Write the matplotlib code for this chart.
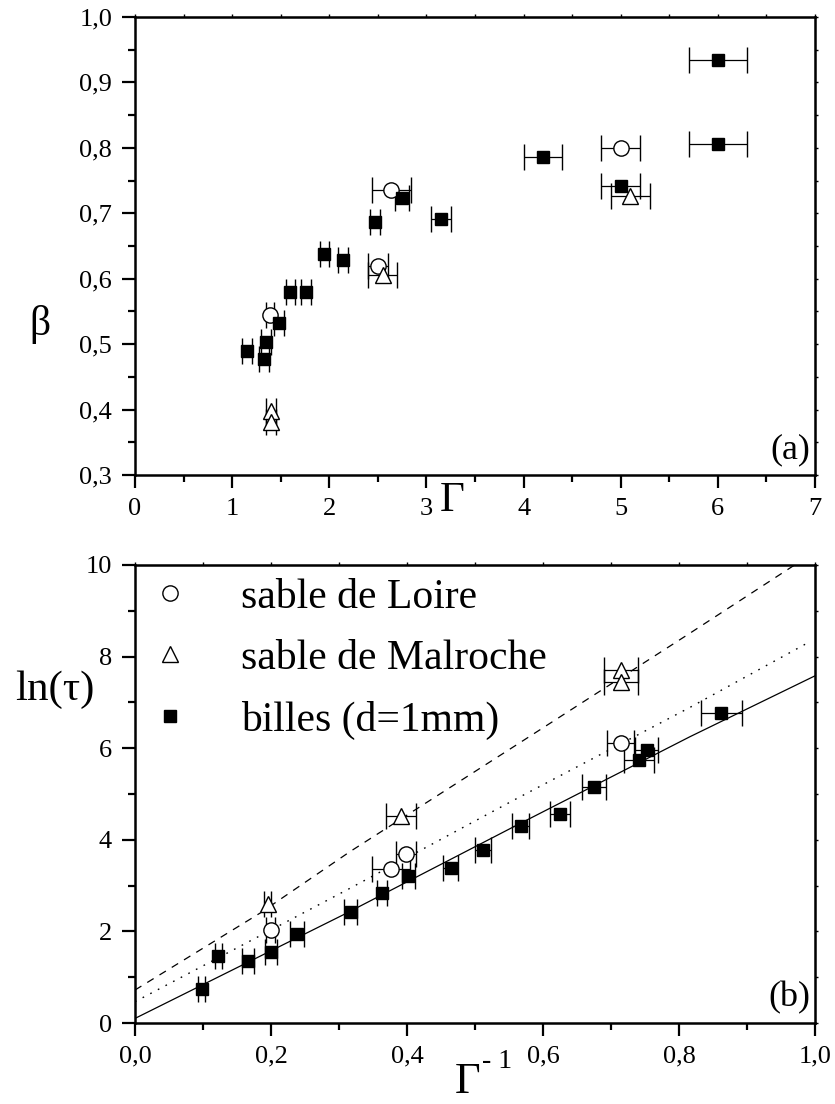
import numpy as np
import matplotlib
matplotlib.use('Agg')
import matplotlib.pyplot as plt
from matplotlib.lines import Line2D
from matplotlib.ticker import MultipleLocator, FuncFormatter

plt.rcParams['font.family'] = ['Liberation Serif', 'DejaVu Serif']

# (a) beta vs Gamma
loire_g = [1.39, 2.50, 2.64, 5.00]
loire_b = [0.545, 0.619, 0.735, 0.800]
loire_gerr = [0.04, 0.10, 0.20, 0.20]

malroche_g = [1.40, 1.40, 2.55, 5.10]
malroche_b = [0.398, 0.381, 0.606, 0.726]
malroche_gerr = [0.05, 0.05, 0.15, 0.20]

billes_g = [1.15, 1.33, 1.35, 1.48, 1.60, 1.76, 1.95, 2.14, 2.47, 2.75, 3.15, 4.20, 5.00, 6.00, 6.00]
billes_b = [0.489, 0.478, 0.503, 0.532, 0.579, 0.579, 0.638, 0.629, 0.686, 0.724, 0.692, 0.786, 0.742, 0.806, 0.934]
billes_gerr = [0.05, 0.05, 0.05, 0.05, 0.05, 0.05, 0.05, 0.05, 0.05, 0.07, 0.10, 0.20, 0.20, 0.30, 0.30]

# (b) ln(tau) vs 1/Gamma
billes_inv = [0.098, 0.1225, 0.166, 0.1995, 0.238, 0.317, 0.363, 0.402, 0.464, 0.512, 0.567, 0.625, 0.675, 0.741, 0.7525, 0.862]
billes_ln = [0.75, 1.46, 1.35, 1.54, 1.94, 2.42, 2.83, 3.20, 3.38, 3.78, 4.30, 4.56, 5.16, 5.74, 5.95, 6.76]
billes_inverr = [0.005, 0.005, 0.009, 0.009, 0.010, 0.010, 0.007, 0.010, 0.011, 0.012, 0.013, 0.015, 0.018, 0.022, 0.017, 0.030]

loire_inv = [0.1995, 0.3765, 0.3985, 0.714]
loire_ln = [2.03, 3.36, 3.69, 6.12]
loire_inverr = [0.007, 0.028, 0.015, 0.020]

malroche_inv = [0.195, 0.391, 0.714, 0.714]
malroche_ln = [2.60, 4.53, 7.71, 7.45]
malroche_inverr = [0.005, 0.022, 0.025, 0.025]

# fitted lines
fit_billes_x = [0.0, 0.306, 0.555, 0.816, 1.0]
fit_billes_y = [0.10, 2.36, 4.27, 6.25, 7.58]
fit_loire_x = [0.0, 0.316, 0.555, 0.816, 0.993]
fit_loire_y = [0.465, 2.94, 4.85, 6.89, 8.33]
fit_malroche_x = [0.0, 0.184, 0.316, 0.566, 0.816, 0.97]
fit_malroche_y = [0.72, 2.40, 3.74, 6.12, 8.51, 10.0]

labels = ['sable de Loire', 'sable de Malroche', 'billes (d=1mm)']

W, H = 835, 1104
fig = plt.figure(figsize=(W / 100, H / 100), dpi=100)
ax1 = fig.add_axes([135 / W, 1 - 475 / H, 680 / W, 458 / H])
ax2 = fig.add_axes([135 / W, 1 - 1023 / H, 680 / W, 458 / H])

# note: errorbar caps take the marker edge width, so keep it > 0
circ = dict(marker='o', ms=11, mfc='white', mec='black', mew=1.0)
tri = dict(marker='^', ms=12, mfc='white', mec='black', mew=1.0)
sq = dict(marker='s', ms=9.2, mfc='black', mec='black', mew=1.0)
eb = dict(ls='none', ecolor='black', elinewidth=0.9, capsize=9.6)

# circles, then squares, then triangles (order of overlap)
for ax, data in [(ax1, [(loire_g, loire_b, loire_gerr, circ),
                        (billes_g, billes_b, billes_gerr, sq),
                        (malroche_g, malroche_b, malroche_gerr, tri)]),
                 (ax2, [(loire_inv, loire_ln, loire_inverr, circ),
                        (billes_inv, billes_ln, billes_inverr, sq),
                        (malroche_inv, malroche_ln, malroche_inverr, tri)])]:
    for xs, ys, errs, st in data:
        ax.errorbar(xs, ys, xerr=errs, **eb, **st)

ax2.plot(fit_billes_x, fit_billes_y, color='black', lw=0.9, zorder=1)
ax2.plot(fit_loire_x, fit_loire_y, color='black', lw=1.0, ls=(0, (1.2, 5)), zorder=1)
ax2.plot(fit_malroche_x, fit_malroche_y, color='black', lw=0.9, ls=(0, (6, 5.5)), zorder=1)

comma = FuncFormatter(lambda v, p: f'{v:.1f}'.replace('.', ','))

ax1.set_xlim(0, 7)
ax1.set_ylim(0.3, 1.0)
ax1.xaxis.set_major_locator(MultipleLocator(1))
ax1.xaxis.set_minor_locator(MultipleLocator(0.5))
ax1.yaxis.set_major_locator(MultipleLocator(0.1))
ax1.yaxis.set_minor_locator(MultipleLocator(0.05))
ax1.yaxis.set_major_formatter(comma)

ax2.set_xlim(0, 1)
ax2.set_ylim(0, 10)
ax2.xaxis.set_major_locator(MultipleLocator(0.2))
ax2.xaxis.set_minor_locator(MultipleLocator(0.1))
ax2.yaxis.set_major_locator(MultipleLocator(2))
ax2.yaxis.set_minor_locator(MultipleLocator(1))
ax2.xaxis.set_major_formatter(comma)

for ax, xm, ym in [(ax1, 0.5, 0.05), (ax2, 0.1, 1)]:
    for s in ax.spines.values():
        s.set_linewidth(1.8)
    ax.tick_params(which='major', direction='out', length=9.5, width=1.6,
                   labelsize=19, pad=7, top=False, right=False)
    ax.tick_params(which='minor', direction='out', length=5, width=1.6,
                   top=False, right=False)
    sx = ax.secondary_xaxis('top')
    sx.xaxis.set_major_locator(MultipleLocator(xm))
    sx.tick_params(direction='out', length=2, width=1, labeltop=False)
    sy = ax.secondary_yaxis('right')
    sy.yaxis.set_major_locator(MultipleLocator(ym))
    sy.tick_params(direction='out', length=2.5, width=1, labelright=False)

ax1.text(0.993, 0.02, '(a)', transform=ax1.transAxes, ha='right', va='bottom', fontsize=26)
ax2.text(0.993, 0.02, '(b)', transform=ax2.transAxes, ha='right', va='bottom', fontsize=26)

fig.text(40 / W, 1 - 325 / H, 'β', fontsize=30, ha='center', va='center')
fig.text(452 / W, 1 - 501 / H, 'Γ', fontsize=31, ha='center', va='center')
fig.text(55 / W, 1 - 690 / H, 'ln(τ)', fontsize=31, ha='center', va='center')
fig.text(468 / W, 1 - 1082 / H, 'Γ', fontsize=32, ha='center', va='center')
fig.text(497 / W, 1 - 1062 / H, '- 1', fontsize=20, ha='center', va='center')

handles = [Line2D([], [], ls='none', **circ), Line2D([], [], ls='none', **tri),
           Line2D([], [], ls='none', **sq)]
ax2.legend(handles, labels, loc='upper left', bbox_to_anchor=(0.0, 1.016), frameon=False,
           fontsize=30, handlelength=0.7, handletextpad=1.34, labelspacing=0.54,
           borderaxespad=0.1)

fig.savefig('out.png', dpi=100)
